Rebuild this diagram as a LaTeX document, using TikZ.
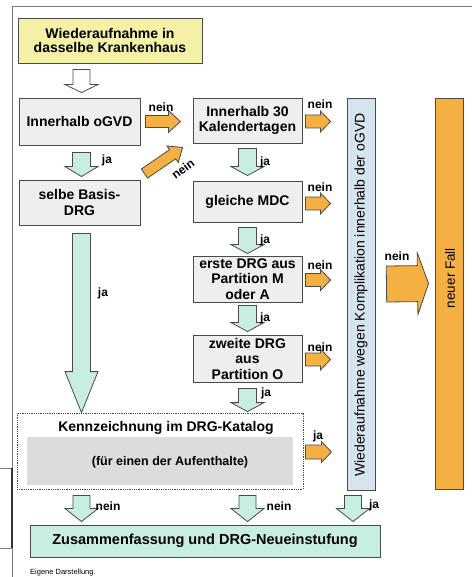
\documentclass[tikz,border=0pt]{standalone}
\usepackage{fontspec}
\setmainfont{Liberation Sans}
\usetikzlibrary{calc}
\definecolor{ylwfill}{HTML}{F4F0A6}
\definecolor{grayfill}{HTML}{EEEEEE}
\definecolor{innergray}{HTML}{DCDCDC}
\definecolor{tealfill}{HTML}{C8EEE4}
\definecolor{orangefill}{HTML}{F5B043}
\definecolor{bluefill}{HTML}{D6E4F0}
\definecolor{edgecol}{HTML}{4A4A4A}
\definecolor{framecol}{HTML}{7A7A7A}
\newcommand\fatarrow[6]{%
  \coordinate (fah) at ($#3!#6!#2$);
  \draw[#1] ($#2!#4!90:#3$) -- ($(fah)!#4!90:#3$) -- ($(fah)!#5!90:#3$) -- #3
    -- ($(fah)!#5!-90:#3$) -- ($(fah)!#4!-90:#3$) -- ($#2!#4!-90:#3$) -- cycle;}
\tikzset{
  box/.style={draw=edgecol, line width=0.9pt, fill=grayfill, align=center,
    inner sep=0pt, font=\bfseries\fontsize{14}{15.5}\selectfont},
  lbl/.style={font=\bfseries\fontsize{12}{13}\selectfont, inner sep=0pt},
  whitearr/.style={draw=edgecol, line width=0.8pt, fill=white},
  tealarr/.style={draw=edgecol, line width=0.8pt, fill=tealfill},
  orarr/.style={draw=edgecol, line width=0.8pt, fill=orangefill},
}
\begin{document}
\begin{tikzpicture}[x=1pt,y=-1pt]
\useasboundingbox (0,0) rectangle (472,577);
\fill[white] (0,0) rectangle (472,577);
% frame
\draw[framecol, line width=0.8pt] (472,6) -- (12,6) -- (12,577);
\draw[framecol, line width=0.8pt] (0,468) -- (12,468) (0,548) -- (12,548);
\draw[black!80, line width=1.2pt] (12,468) -- (12,548);

% boxes
\node[box, fill=ylwfill, minimum width=184pt, minimum height=45pt,
      font=\bfseries\fontsize{14}{14.5}\selectfont] (start) at (110,40.5)
      {Wiederaufnahme in\\dasselbe Krankenhaus};
\node[box, minimum width=121pt, minimum height=47pt] (ogvd) at (79.5,121.5) {Innerhalb oGVD};
\node[box, minimum width=121pt, minimum height=45pt] (sel) at (79.5,202.5) {selbe Basis-\\DRG};
\node[box, minimum width=109pt, minimum height=45pt] (k30) at (247.5,120.5) {Innerhalb 30\\Kalendertagen};
\node[box, minimum width=109pt, minimum height=41pt] (mdc) at (247.5,201.5) {gleiche MDC};
\node[box, minimum width=109pt, minimum height=46pt] (erste) at (247.5,279) {erste DRG aus\\Partition M\\oder A};
\node[box, minimum width=109pt, minimum height=47pt] (zweite) at (247.5,358.5) {zweite DRG\\aus\\Partition O};
\node[draw=edgecol, densely dotted, line width=0.8pt, minimum width=286pt, minimum height=76pt, inner sep=0pt] (kenn) at (160,451) {};
\node[fill=innergray, minimum width=266pt, minimum height=48pt, inner sep=0pt] (kinner) at (160,461) {};
\node[font=\bfseries\fontsize{14}{15}\selectfont, inner sep=0pt] (ktitle) at (166,428) {Kennzeichnung im DRG-Katalog};
\node[font=\bfseries\fontsize{12.5}{14}\selectfont, inner sep=0pt] (ktext) at (170,462) {(für einen der Aufenthalte)};
\node[draw=edgecol, line width=0.9pt, fill=bluefill, minimum width=28pt, minimum height=392pt, inner sep=0pt] (bar) at (361,294) {};
\node[rotate=90, font=\fontsize{14}{15}\selectfont, inner sep=0pt] (bartext) at (361,295)
      {Wiederaufnahme wegen Komplikation innerhalb der oGVD};
\node[draw=edgecol, line width=0.9pt, fill=orangefill, minimum width=28pt, minimum height=391pt, inner sep=0pt] (fall) at (449,293.5) {};
\node[rotate=90, font=\fontsize{13.5}{15}\selectfont, inner sep=0pt] (falltext) at (450,278) {neuer Fall};
\node[box, fill=tealfill, minimum width=350pt, minimum height=32pt,
      font=\bfseries\fontsize{14.5}{16}\selectfont] (final) at (205,541)
      {Zusammenfassung und DRG-Neueinstufung};
\node[anchor=west, font=\fontsize{7.5}{9}\selectfont, inner sep=0pt] (src) at (30,573) {Eigene Darstellung.};

% arrow end points
\coordinate (a1t) at ($(start.south -| ogvd.north)+(2,6)$);
\coordinate (a1h) at ($(ogvd.north)+(2,-5)$);
\coordinate (a2t) at ($(ogvd.south)+(2,7)$);
\coordinate (a2h) at ($(sel.north)+(2,-3)$);
\coordinate (a3t) at ($(sel.south)+(2,8)$);
\coordinate (a3h) at ($(kenn.north -| sel.north)+(2,0)$);
\coordinate (b1t) at ($(k30.south)+(0,5)$);
\coordinate (b1h) at ($(mdc.north)+(0,-5)$);
\coordinate (b2t) at ($(mdc.south)+(0,5)$);
\coordinate (b2h) at ($(erste.north)+(0,-2)$);
\coordinate (b3t) at ($(erste.south)+(0,3)$);
\coordinate (b3h) at ($(zweite.north)+(0,-3)$);
\coordinate (b4t) at ($(zweite.south)+(0,6)$);
\coordinate (b4h) at ($(kenn.north -| zweite.north)+(0,-1)$);
\coordinate (c1t) at ($(kenn.south -| sel.south)+(2,6)$);
\coordinate (c1h) at ($(final.north -| sel.south)+(2,-3)$);
\coordinate (c2t) at ($(kenn.south -| zweite.south)+(0,6)$);
\coordinate (c2h) at ($(final.north -| zweite.south)+(0,-3)$);
\coordinate (c3t) at ($(bar.south)+(-8,5)$);
\coordinate (c3h) at ($(final.north -| bar.south)+(-8,-3)$);
\coordinate (h0t) at ($(ogvd.east)+(5,0)$);
\coordinate (h0h) at ($(ogvd.east)+(40,0)$);
\coordinate (h1t) at ($(k30.east)+(3,1)$);
\coordinate (h1h) at ($(k30.east)+(28,1)$);
\coordinate (h2t) at ($(mdc.east)+(3,2)$);
\coordinate (h2h) at ($(mdc.east)+(28,2)$);
\coordinate (h3t) at ($(erste.east)+(3,1)$);
\coordinate (h3h) at ($(erste.east)+(28,1)$);
\coordinate (h4t) at ($(zweite.east)+(3,1)$);
\coordinate (h4h) at ($(zweite.east)+(28,1)$);
\coordinate (h5t) at ($(kenn.east)+(2,1)$);
\coordinate (h5h) at ($(kenn.east)+(28,1)$);
\coordinate (bigt) at ($(bar.east)+(11,-10)$);
\coordinate (bigh) at ($(fall.west)+(-6,-10)$);
\coordinate (dt) at ($(sel.north east)+(4,-6)$);
\coordinate (dh) at ($(k30.south west)+(-10,4)$);

% arrows
\fatarrow{whitearr}{(a1t)}{(a1h)}{8.5pt}{16.5pt}{8pt}
\fatarrow{tealarr}{(a2t)}{(a2h)}{9pt}{16.5pt}{10pt}
\fatarrow{tealarr}{(a3t)}{(a3h)}{9pt}{16.5pt}{41pt}
\fatarrow{tealarr}{(b1t)}{(b1h)}{9pt}{16.5pt}{9pt}
\fatarrow{tealarr}{(b2t)}{(b2h)}{9pt}{16.5pt}{9pt}
\fatarrow{tealarr}{(b3t)}{(b3h)}{9pt}{16.5pt}{9pt}
\fatarrow{tealarr}{(b4t)}{(b4h)}{9pt}{16.5pt}{9pt}
\fatarrow{tealarr}{(c1t)}{(c1h)}{8.5pt}{16.5pt}{13pt}
\fatarrow{tealarr}{(c2t)}{(c2h)}{8.5pt}{16.5pt}{13pt}
\fatarrow{tealarr}{(c3t)}{(c3h)}{8.5pt}{16.5pt}{13pt}
\fatarrow{orarr}{(h0t)}{(h0h)}{6pt}{11pt}{12pt}
\fatarrow{orarr}{(h1t)}{(h1h)}{6.5pt}{10.5pt}{10pt}
\fatarrow{orarr}{(h2t)}{(h2h)}{6.5pt}{10.5pt}{10pt}
\fatarrow{orarr}{(h3t)}{(h3h)}{6.5pt}{10.5pt}{10pt}
\fatarrow{orarr}{(h4t)}{(h4h)}{6.5pt}{10.5pt}{10pt}
\fatarrow{orarr}{(h5t)}{(h5h)}{7pt}{10.5pt}{10pt}
\fatarrow{orarr}{(bigt)}{(bigh)}{18pt}{31pt}{11pt}
\fatarrow{orarr}{(dt)}{(dh)}{5.5pt}{10pt}{12pt}

% labels
\node[lbl] (l0) at (161,107) {nein};
\node[lbl] (l1) at (107,160) {ja};
\node[lbl, rotate=37] (l2) at (183,169) {nein};
\node[lbl] (l3) at (320,104) {nein};
\node[lbl] (l4) at (265,162) {ja};
\node[lbl] (l5) at (320,187) {nein};
\node[lbl] (l6) at (265,240) {ja};
\node[lbl] (l7) at (320,265) {nein};
\node[lbl] (l8) at (265,318) {ja};
\node[lbl] (l9) at (320,347) {nein};
\node[lbl] (l10) at (266,393) {ja};
\node[lbl] (l11) at (318,436) {ja};
\node[lbl] (l12) at (397,256) {nein};
\node[lbl] (l13) at (103,293) {ja};
\node[lbl] (l14) at (108,506) {nein};
\node[lbl] (l15) at (279,506) {nein};
\node[lbl] (l16) at (374,505) {ja};
\end{tikzpicture}
\end{document}
